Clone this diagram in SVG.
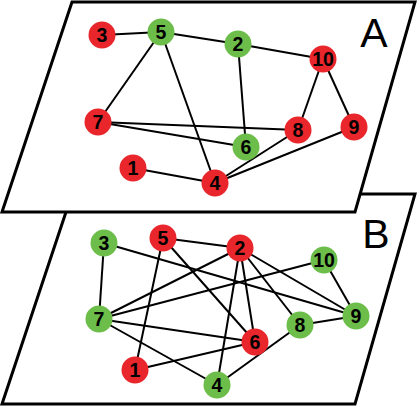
<svg xmlns="http://www.w3.org/2000/svg" width="417" height="407" viewBox="0 0 417 407">
<style>
.plane{fill:#fff;stroke:#000;stroke-width:3;stroke-linejoin:miter}
.e line{stroke:#000;stroke-width:2}
.r{fill:#e8262b}
.g{fill:#6cbd4a}
.t{font-family:"Liberation Sans",Arial,sans-serif;font-weight:bold;font-size:19.5px;text-anchor:middle;fill:#000}
.big{font-family:"Liberation Sans",Arial,sans-serif;font-size:41px;text-anchor:middle;fill:#000}
</style>
<defs>
<circle id="n" r="13.5"/>
</defs>
<rect width="417" height="407" fill="#fff"/>
<g id="planeB">
<polygon class="plane" points="72,194 415,194 355,404 2,404"/>
<text class="big" x="376" y="248">B</text>
</g>
<g id="connectorsB" class="e">
<line x1="104" y1="243" x2="99" y2="319"/>
<line x1="104" y1="243" x2="356" y2="316"/>
<line x1="163" y1="238" x2="240" y2="248"/>
<line x1="163" y1="238" x2="135" y2="370"/>
<line x1="163" y1="238" x2="255" y2="342"/>
<line x1="240" y1="248" x2="99" y2="319"/>
<line x1="240" y1="248" x2="255" y2="342"/>
<line x1="240" y1="248" x2="217" y2="385"/>
<line x1="240" y1="248" x2="300" y2="325"/>
<line x1="240" y1="248" x2="356" y2="316"/>
<line x1="324" y1="260" x2="99" y2="319"/>
<line x1="324" y1="260" x2="356" y2="316"/>
<line x1="99" y1="319" x2="255" y2="342"/>
<line x1="99" y1="319" x2="217" y2="385"/>
<line x1="135" y1="370" x2="255" y2="342"/>
<line x1="217" y1="385" x2="300" y2="325"/>
<line x1="300" y1="325" x2="356" y2="316"/>
</g>
<g id="B3"><use href="#n" class="g" x="104" y="243"/><text class="t" x="104" y="250">3</text></g>
<g id="B5"><use href="#n" class="r" x="163" y="238"/><text class="t" x="163" y="245">5</text></g>
<g id="B2"><use href="#n" class="r" x="240" y="248"/><text class="t" x="240" y="255">2</text></g>
<g id="B10"><use href="#n" class="g" x="324" y="260"/><text class="t" x="324" y="267">10</text></g>
<g id="B7"><use href="#n" class="g" x="99" y="319"/><text class="t" x="99" y="326">7</text></g>
<g id="B8"><use href="#n" class="g" x="300" y="325"/><text class="t" x="300" y="332">8</text></g>
<g id="B9"><use href="#n" class="g" x="356" y="316"/><text class="t" x="356" y="323">9</text></g>
<g id="B6"><use href="#n" class="r" x="255" y="342"/><text class="t" x="255" y="349">6</text></g>
<g id="B1"><use href="#n" class="r" x="135" y="370"/><text class="t" x="135" y="377">1</text></g>
<g id="B4"><use href="#n" class="g" x="217" y="385"/><text class="t" x="217" y="392">4</text></g>

<g id="planeA">
<polygon class="plane" points="72,2 415,2 355,212 2,212"/>
<text class="big" x="374" y="47">A</text>
</g>
<g id="connectorsA" class="e">
<line x1="102" y1="35" x2="161" y2="32"/>
<line x1="161" y1="32" x2="238" y2="44"/>
<line x1="238" y1="44" x2="323" y2="59"/>
<line x1="161" y1="32" x2="98" y2="122"/>
<line x1="161" y1="32" x2="215" y2="183"/>
<line x1="238" y1="44" x2="246" y2="147"/>
<line x1="323" y1="59" x2="298" y2="130"/>
<line x1="323" y1="59" x2="354" y2="127"/>
<line x1="98" y1="122" x2="298" y2="130"/>
<line x1="98" y1="122" x2="246" y2="147"/>
<line x1="133" y1="168" x2="215" y2="183"/>
<line x1="215" y1="183" x2="298" y2="130"/>
<line x1="215" y1="183" x2="354" y2="127"/>
</g>
<g id="A3"><use href="#n" class="r" x="102" y="35"/><text class="t" x="102" y="42">3</text></g>
<g id="A5"><use href="#n" class="g" x="161" y="32"/><text class="t" x="161" y="39">5</text></g>
<g id="A2"><use href="#n" class="g" x="238" y="44"/><text class="t" x="238" y="51">2</text></g>
<g id="A10"><use href="#n" class="r" x="323" y="59"/><text class="t" x="323" y="66">10</text></g>
<g id="A7"><use href="#n" class="r" x="98" y="122"/><text class="t" x="98" y="129">7</text></g>
<g id="A8"><use href="#n" class="r" x="298" y="130"/><text class="t" x="298" y="137">8</text></g>
<g id="A9"><use href="#n" class="r" x="354" y="127"/><text class="t" x="354" y="134">9</text></g>
<g id="A6"><use href="#n" class="g" x="246" y="147"/><text class="t" x="246" y="154">6</text></g>
<g id="A1"><use href="#n" class="r" x="133" y="168"/><text class="t" x="133" y="175">1</text></g>
<g id="A4"><use href="#n" class="r" x="215" y="183"/><text class="t" x="215" y="190">4</text></g>
</svg>
